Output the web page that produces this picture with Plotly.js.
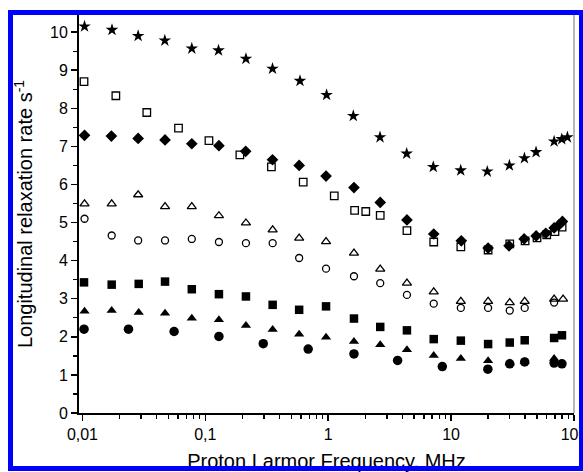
<!DOCTYPE html>
<html>
<head>
<meta charset="utf-8">
<script src="https://cdn.plot.ly/plotly-3.0.1.min.js"></script>
<style>
  html, body { margin:0; padding:0; background:#fff; }
  #wrap { position:relative; width:583px; height:472px; overflow:hidden; }
  #chart { position:absolute; left:0; top:0; width:583px; height:472px; }
  #frame { position:absolute; left:8px; top:10px; width:576px; height:461px; box-sizing:border-box;
           border:5px solid #0000ff; pointer-events:none; }
</style>
</head>
<body>
<div id="wrap">
  <div id="chart"></div>
  <div id="frame"></div>
</div>
<script>
// ---- Data ----
// Frequencies in MHz, relaxation rates in s^-1
const starX = [0.0104, 0.0174, 0.0284, 0.0468, 0.0776, 0.128, 0.214, 0.352, 0.589, 0.97, 1.6, 2.64, 4.35, 7.16, 11.97, 19.7, 29.8, 39.5, 49.1, 68.9, 79.5, 88.4];
const starY = [10.15, 10.06, 9.90, 9.78, 9.57, 9.52, 9.30, 9.04, 8.72, 8.35, 7.80, 7.24, 6.81, 6.46, 6.37, 6.34, 6.50, 6.69, 6.85, 7.13, 7.19, 7.24];

const diamondX = [0.0104, 0.0172, 0.0284, 0.047, 0.0776, 0.129, 0.213, 0.352, 0.58, 0.96, 1.62, 2.65, 4.37, 7.22, 12.1, 20.0, 29.6, 39.3, 49.2, 58.9, 68.9, 75.6, 80.5];
const diamondY = [7.29, 7.27, 7.21, 7.17, 7.07, 7.02, 6.87, 6.65, 6.50, 6.22, 5.92, 5.53, 5.07, 4.70, 4.52, 4.33, 4.39, 4.57, 4.65, 4.72, 4.86, 4.94, 5.03];

const openSquareX = [0.0103, 0.0187, 0.0334, 0.0605, 0.107, 0.191, 0.345, 0.626, 1.12, 1.64, 2.02, 2.65, 4.37, 7.22, 12.0, 20.0, 30.0, 40.0, 50.0, 60.0, 70.0, 80.0];
const openSquareY = [8.70, 8.33, 7.89, 7.48, 7.15, 6.78, 6.46, 6.06, 5.70, 5.32, 5.29, 5.19, 4.79, 4.49, 4.36, 4.28, 4.44, 4.52, 4.60, 4.68, 4.76, 4.88];

const openTriangleX = [0.0104, 0.0173, 0.0284, 0.047, 0.0776, 0.129, 0.214, 0.353, 0.58, 0.96, 1.62, 2.65, 4.37, 7.22, 12.0, 20.0, 30.0, 39.7, 68.9, 81.5];
const openTriangleY = [5.49, 5.49, 5.73, 5.42, 5.42, 5.18, 4.99, 4.81, 4.59, 4.50, 4.20, 3.78, 3.41, 3.18, 2.93, 2.93, 2.90, 2.93, 2.99, 2.99];

const openCircleX = [0.0104, 0.0173, 0.0284, 0.047, 0.0776, 0.129, 0.214, 0.353, 0.58, 0.96, 1.62, 2.65, 4.37, 7.22, 12.0, 20.0, 30.0, 39.7, 68.9];
const openCircleY = [5.10, 4.66, 4.53, 4.53, 4.57, 4.49, 4.46, 4.46, 4.07, 3.79, 3.59, 3.41, 3.10, 2.87, 2.76, 2.76, 2.69, 2.76, 2.90];

const squareX = [0.0103, 0.0173, 0.0287, 0.047, 0.0776, 0.129, 0.214, 0.353, 0.58, 0.96, 1.62, 2.65, 4.37, 7.22, 12.0, 20.0, 30.0, 39.7, 68.9, 79.8];
const squareY = [3.43, 3.37, 3.39, 3.45, 3.25, 3.12, 3.06, 2.84, 2.71, 2.80, 2.48, 2.26, 2.17, 1.94, 1.90, 1.81, 1.85, 1.91, 1.97, 2.04];

const triangleX = [0.0104, 0.0173, 0.0287, 0.047, 0.0776, 0.129, 0.214, 0.353, 0.58, 0.96, 1.62, 2.65, 4.37, 7.22, 12.0, 20.0, 30.0, 39.7, 68.9];
const triangleY = [2.67, 2.69, 2.64, 2.62, 2.49, 2.45, 2.30, 2.19, 2.07, 1.99, 1.88, 1.79, 1.66, 1.51, 1.43, 1.37, 1.31, 1.35, 1.43];

const circleX = [0.0103, 0.0237, 0.0557, 0.129, 0.296, 0.687, 1.62, 3.67, 8.48, 19.9, 30.0, 39.7, 68.9, 79.8];
const circleY = [2.20, 2.20, 2.14, 2.01, 1.82, 1.68, 1.55, 1.38, 1.22, 1.15, 1.29, 1.34, 1.31, 1.29];

const xTickVals = [0.01, 0.1, 1, 10, 100];
const xTickText = ['0,01', '0,1', '1', '10', '100'];

// ---- Build chart ----
const minorX = [];
[0.01, 0.1, 1, 10].forEach(d => { for (let k = 2; k <= 9; k++) minorX.push(+(d * k).toPrecision(3)); });

function tr(x, y, symbol, size, open) {
  return {
    x: x, y: y, type: 'scatter', mode: 'markers', hoverinfo: 'x+y',
    marker: open
      ? { symbol: symbol, size: size, color: 'black', line: { color: 'black', width: 1.3 } }
      : { symbol: symbol, size: size, color: 'black', line: { width: 0 } }
  };
}

const data = [
  tr(openSquareX, openSquareY, 'square-open', 7.5, true),
  tr(diamondX, diamondY, 'diamond', 9, false),
  tr(openCircleX, openCircleY, 'circle-open', 7, true),
  tr(openTriangleX, openTriangleY, 'triangle-up-open', 8, true),
  tr(circleX, circleY, 'circle', 9.5, false),
  tr(triangleX, triangleY, 'triangle-up', 9, false),
  tr(squareX, squareY, 'square', 8.5, false),
  tr(starX, starY, 'star', 9.5, false)
];

const font = 'Liberation Sans, Arial, sans-serif';
const layout = {
  width: 583, height: 472,
  margin: { l: 79, r: 9, t: 15, b: 59 },
  paper_bgcolor: 'white', plot_bgcolor: 'white',
  showlegend: false,
  font: { family: font, color: 'black', size: 16 },
  xaxis: {
    type: 'log', range: [-2.028, 2.0],
    tickmode: 'array', tickvals: xTickVals, ticktext: xTickText,
    ticklabeloverflow: 'allow',
    ticks: 'outside', ticklen: 6, tickwidth: 1.5, tickcolor: 'black',
    minor: { tickmode: 'array', tickvals: minorX, ticks: 'outside', ticklen: 3.5, tickwidth: 1.3, tickcolor: 'black', showgrid: false },
    showline: true, linewidth: 2, linecolor: 'black',
    showgrid: false, zeroline: false,
    tickfont: { family: font, size: 16, color: 'black' },
    title: { text: 'Proton Larmor Frequency, MHz', font: { family: font, size: 20, color: 'black' }, standoff: 16 }
  },
  yaxis: {
    range: [0, 10.45], tick0: 0, dtick: 1,
    ticks: 'outside', ticklen: 6, tickwidth: 1.5, tickcolor: 'black',
    minor: { dtick: 0.5, ticks: 'outside', ticklen: 4, tickwidth: 1.3, tickcolor: 'black', showgrid: false },
    showline: true, linewidth: 2, linecolor: 'black',
    showgrid: false, zeroline: false,
    tickfont: { family: font, size: 16, color: 'black' },
    title: { text: 'Longitudinal relaxation rate s<sup>-1</sup>', font: { family: font, size: 20, color: 'black' }, standoff: 12 }
  },
  shapes: [
    { type: 'line', xref: 'paper', yref: 'paper', x0: 1, x1: 1, y0: 0, y1: 1, line: { color: '#a0a0a0', width: 1.5 } }
  ]
};

Plotly.newPlot('chart', data, layout, { displayModeBar: false, staticPlot: true });
</script>
</body>
</html>
